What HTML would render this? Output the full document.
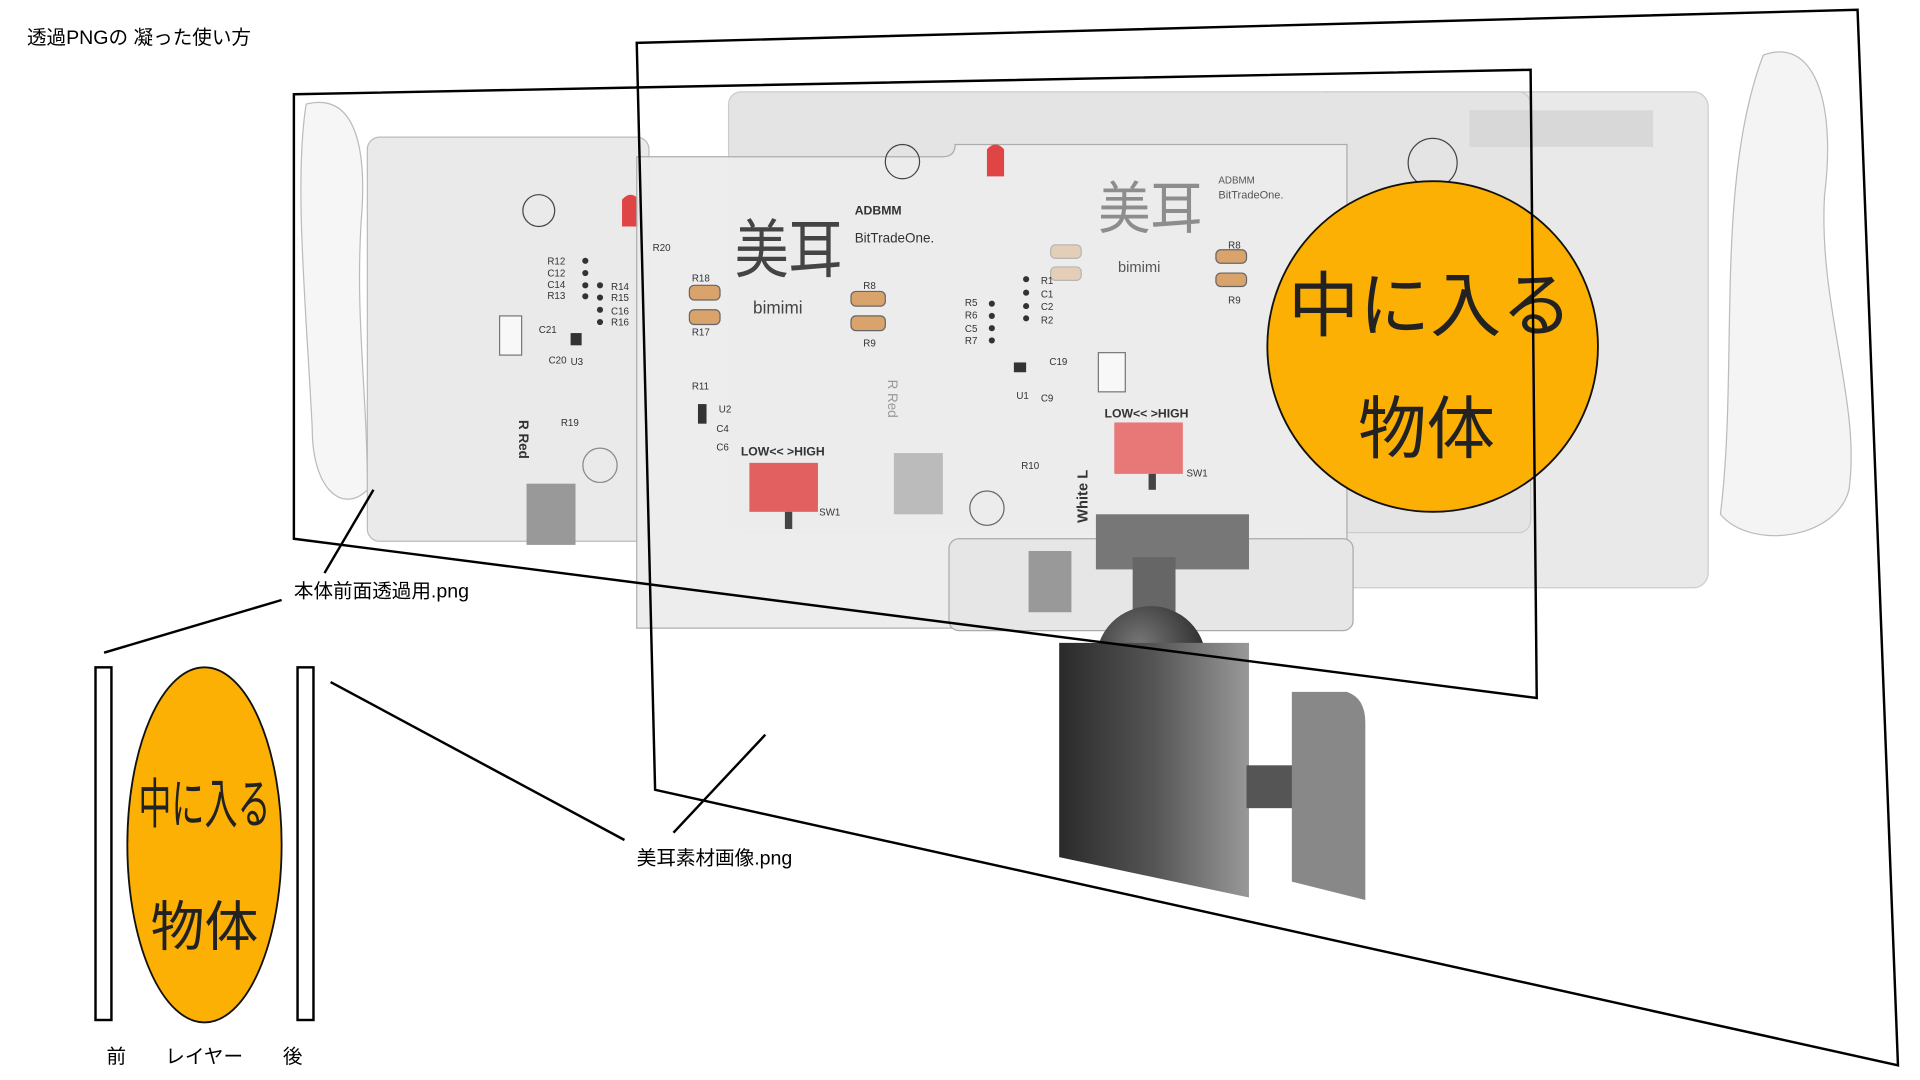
<!DOCTYPE html>
<html><head><meta charset="utf-8"><style>
html,body{margin:0;padding:0;background:#fff;width:1920px;height:1080px;overflow:hidden}
svg{display:block}
text{font-family:"Liberation Sans","Noto Sans CJK JP",sans-serif}
</style></head><body>
<svg width="1920" height="1080" viewBox="0 0 1568 882" preserveAspectRatio="none" xmlns="http://www.w3.org/2000/svg">
<defs>
<linearGradient id="bod" x1="0" x2="1" y1="0" y2="0">
<stop offset="0" stop-color="#2a2a2a"/><stop offset="0.5" stop-color="#555"/><stop offset="1" stop-color="#999"/></linearGradient>
<radialGradient id="ball" cx="0.4" cy="0.35" r="0.7"><stop offset="0" stop-color="#777"/><stop offset="1" stop-color="#222"/></radialGradient>
</defs>
<rect x="1070" y="75" width="325" height="405" rx="12" fill="#e9e9e9" stroke="#ccc"/>
<rect x="595" y="75" width="655" height="360" rx="10" fill="#e4e4e4" stroke="#ccc"/>
<rect x="1200" y="90" width="150" height="30" fill="#d8d8d8"/>
<path d="M1440 45 C1480 30 1500 80 1490 160 C1485 250 1520 330 1510 400 C1500 440 1430 450 1405 420 C1420 300 1400 150 1440 45Z" fill="#f4f4f4" stroke="#bbb"/>
<rect x="300" y="112" width="230" height="330" rx="10" fill="#eaeaea" stroke="#bbb"/>
<path d="M250 85 C290 75 300 120 295 180 C290 260 300 320 300 400 C280 420 255 400 255 350 C250 250 240 150 250 85Z" fill="#f6f6f6" stroke="#bbb"/>
<rect x="430" y="395" width="40" height="50" fill="#999"/>
<circle cx="440" cy="172" r="13" fill="none" stroke="#444"/>
<circle cx="490" cy="380" r="14" fill="none" stroke="#888"/>
<path d="M508 163 q7-8 14 0 v22 h-14z" fill="#e04545"/>
<path d="M520 128 H770 q10 0 10 -10 h320 v395 H520Z" fill="#ededed" stroke="#aaa" opacity="0.95"/>
<rect x="775" y="440" width="330" height="75" rx="8" fill="#e6e6e6" stroke="#aaa"/>
<rect x="840" y="450" width="35" height="50" fill="#999"/>
<rect x="730" y="370" width="40" height="50" fill="#bbb"/>
<circle cx="737" cy="132" r="14" fill="none" stroke="#444"/>
<circle cx="1170" cy="133" r="20" fill="none" stroke="#444"/>
<circle cx="806" cy="415" r="14" fill="none" stroke="#666"/>
<path d="M806 122 q7-8 14 0 v22 h-14z" fill="#e04545"/>
<text x="600" y="222" font-size="52" fill="#444" textLength="88" lengthAdjust="spacingAndGlyphs">美耳</text>
<text x="897" y="186" font-size="46" fill="#666" opacity="0.7" textLength="85" lengthAdjust="spacingAndGlyphs">美耳</text>
<text x="698" y="175" font-size="10" fill="#333" font-weight="bold">ADBMM</text>
<text x="698" y="198" font-size="11" fill="#333">BitTradeOne.</text>
<text x="995" y="150" font-size="8" fill="#555">ADBMM</text>
<text x="995" y="162" font-size="9" fill="#555">BitTradeOne.</text>
<text x="615" y="256" font-size="14" fill="#444">bimimi</text>
<text x="913" y="222" font-size="12" fill="#555">bimimi</text>
<g fill="#d9a36b" stroke="#666" stroke-width="1">
<rect x="563" y="233" width="25" height="12" rx="4"/><rect x="563" y="253" width="25" height="12" rx="4"/>
<rect x="695" y="238" width="28" height="12" rx="4"/><rect x="695" y="258" width="28" height="12" rx="4"/>
<rect x="993" y="204" width="25" height="11" rx="4"/><rect x="993" y="223" width="25" height="11" rx="4"/>
<rect x="858" y="200" width="25" height="11" rx="4" opacity="0.4"/><rect x="858" y="218" width="25" height="11" rx="4" opacity="0.4"/>
</g>
<g font-size="8" fill="#333">
<text x="447" y="216">R12</text><text x="447" y="226">C12</text><text x="447" y="235">C14</text><text x="447" y="244">R13</text>
<text x="499" y="237">R14</text><text x="499" y="246">R15</text><text x="499" y="257">C16</text><text x="499" y="266">R16</text>
<text x="440" y="272">C21</text><text x="448" y="297">C20</text><text x="466" y="298">U3</text>
<text x="458" y="348">R19</text><text x="533" y="205">R20</text>
<text x="565" y="230">R18</text><text x="565" y="274">R17</text><text x="705" y="236">R8</text><text x="705" y="283">R9</text>
<text x="788" y="250">R5</text><text x="788" y="260">R6</text><text x="788" y="271">C5</text><text x="788" y="281">R7</text>
<text x="850" y="232">R1</text><text x="850" y="243">C1</text><text x="850" y="253">C2</text><text x="850" y="264">R2</text>
<text x="857" y="298">C19</text><text x="830" y="326">U1</text><text x="850" y="328">C9</text>
<text x="565" y="318">R11</text><text x="587" y="337">U2</text><text x="585" y="353">C4</text><text x="585" y="368">C6</text>
<text x="834" y="383">R10</text><text x="669" y="421">SW1</text><text x="969" y="389">SW1</text>
<text x="1003" y="203">R8</text><text x="1003" y="248">R9</text>
<text x="605" y="372" font-weight="bold" font-size="10">LOW&lt;&lt; &gt;HIGH</text>
<text x="902" y="341" font-weight="bold" font-size="10">LOW&lt;&lt; &gt;HIGH</text>
</g>
<g fill="#333">
<circle cx="478" cy="213" r="2.5"/><circle cx="478" cy="223" r="2.5"/><circle cx="478" cy="233" r="2.5"/><circle cx="478" cy="242" r="2.5"/>
<circle cx="490" cy="233" r="2.5"/><circle cx="490" cy="243" r="2.5"/><circle cx="490" cy="253" r="2.5"/><circle cx="490" cy="263" r="2.5"/>
<circle cx="810" cy="248" r="2.5"/><circle cx="810" cy="258" r="2.5"/><circle cx="810" cy="268" r="2.5"/><circle cx="810" cy="278" r="2.5"/>
<circle cx="838" cy="228" r="2.5"/><circle cx="838" cy="239" r="2.5"/><circle cx="838" cy="250" r="2.5"/><circle cx="838" cy="260" r="2.5"/>
<rect x="466" y="272" width="9" height="10"/><rect x="828" y="296" width="10" height="8"/><rect x="570" y="330" width="7" height="16"/>
</g>
<rect x="612" y="378" width="56" height="40" fill="#e36060"/>
<rect x="641" y="418" width="6" height="14" fill="#444"/>
<rect x="910" y="345" width="56" height="42" fill="#e87878"/>
<rect x="938" y="387" width="6" height="13" fill="#444"/>
<rect x="408" y="258" width="18" height="32" fill="#f8f8f8" stroke="#777"/>
<rect x="897" y="288" width="22" height="32" fill="#f8f8f8" stroke="#777"/>
<text x="888" y="427" font-size="12" font-weight="bold" fill="#333" transform="rotate(-90 888 427)">White  L</text>
<text x="424" y="343" font-size="11" font-weight="bold" fill="#333" transform="rotate(90 424 343)">R  Red</text>
<text x="725" y="310" font-size="11" fill="#999" transform="rotate(90 725 310)">R  Red</text>
<rect x="895" y="420" width="125" height="45" fill="#777"/>
<rect x="925" y="455" width="35" height="55" fill="#666"/>
<circle cx="940" cy="540" r="45" fill="url(#ball)"/>
<path d="M865 525 H1020 V733 L865 700Z" fill="url(#bod)"/>
<rect x="1018" y="625" width="42" height="35" fill="#555"/>
<path d="M1055 565 H1100 q15 5 15 25 V735 L1055 720Z" fill="#888"/>
<circle cx="1170" cy="283" r="135" fill="#fbb003" stroke="#111" stroke-width="1.5"/>
<text x="1168" y="270" font-size="58" text-anchor="middle" fill="#222">中に入る</text>
<text x="1165" y="370" font-size="56" text-anchor="middle" fill="#222">物体</text>
<path d="M520 35 L1517 8 L1550 870 L535 645Z" fill="none" stroke="#000" stroke-width="2"/>
<path d="M240 77 L1250 57 L1255 570 L240 440Z" fill="none" stroke="#000" stroke-width="2"/>
<g stroke="#000" stroke-width="2">
<line x1="305" y1="400" x2="265" y2="468"/>
<line x1="85" y1="533" x2="230" y2="490"/>
<line x1="270" y1="557" x2="510" y2="686"/>
<line x1="625" y1="600" x2="550" y2="680"/>
</g>
<rect x="78" y="545" width="13" height="288" fill="#fff" stroke="#000" stroke-width="2"/>
<rect x="243" y="545" width="13" height="288" fill="#fff" stroke="#000" stroke-width="2"/>
<ellipse cx="167" cy="690" rx="63" ry="145" fill="#fbb003" stroke="#111" stroke-width="1.5"/>
<text x="167" y="672" font-size="44" text-anchor="middle" fill="#222" textLength="108" lengthAdjust="spacingAndGlyphs">中に入る</text>
<text x="167" y="772" font-size="44" text-anchor="middle" fill="#222">物体</text>
<g font-size="16" fill="#000">
<text x="22" y="36">透過PNGの 凝った使い方</text>
<text x="240" y="488">本体前面透過用.png</text>
<text x="520" y="706">美耳素材画像.png</text>
<text x="87" y="868">前</text>
<text x="135" y="868">レイヤー</text>
<text x="231" y="868">後</text>
</g>
</svg>
</body></html>
